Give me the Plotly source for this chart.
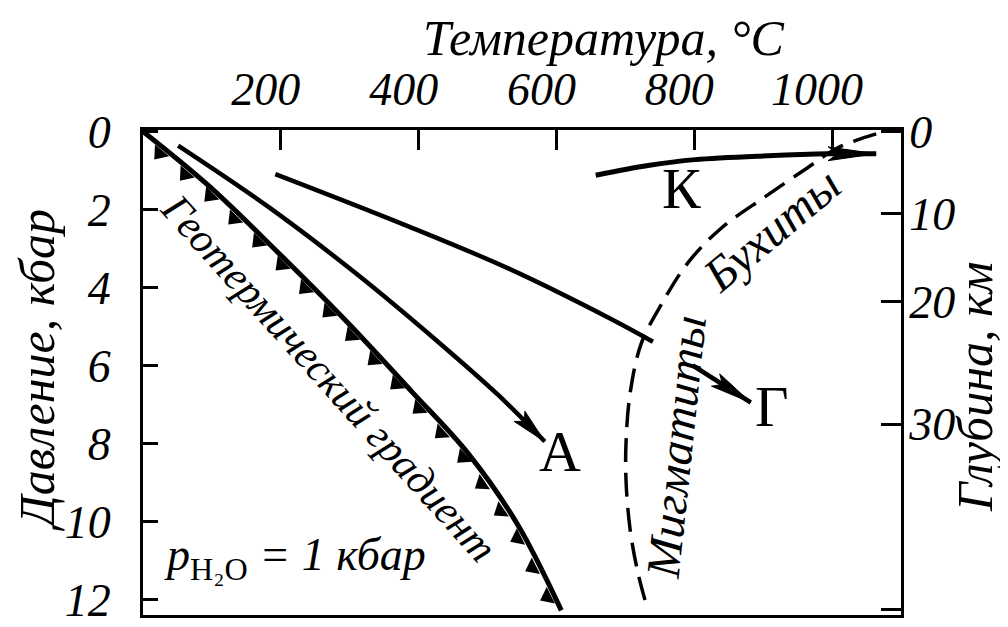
import numpy as np
import plotly.graph_objects as go

# geothermal gradient (T in °C, P in kbar)
grad_T = [0, 94, 193, 292, 389, 472, 544, 607]
grad_P = [0, 1.37, 3.05, 4.81, 6.65, 8.26, 10.09, 12.28]

# path A
a_T = [51, 181, 312, 428, 515, 583]
a_P = [0.36, 1.92, 3.68, 5.39, 6.75, 7.95]

# path Г (broken by the "Мигматиты" label)
g1_T = [192, 385, 530, 675, 740]
g1_P = [1.09, 2.43, 3.51, 4.77, 5.39]
g2_T = [798, 882]
g2_P = [6.00, 6.95]

# path К
k_T = [657, 733, 801, 907, 994, 1064]
k_P = [1.12, 0.87, 0.72, 0.62, 0.57, 0.57]

# migmatite / buchite boundary (dashed)
mig_T = [1064, 1009, 965, 903, 839, 791, 752, 723, 707, 701, 701, 707, 718, 730]
mig_P = [0.06, 0.41, 0.92, 1.67, 2.48, 3.36, 4.44, 5.44, 6.70, 7.96, 8.97, 10.22, 11.30, 12.11]

t_ticks = [200, 400, 600, 800, 1000]
p_ticks = [0, 2, 4, 6, 8, 10, 12]
depth_lbl = ["0", "10", "20", "30", "40"]
depth_pos = [0, 2.10, 4.36, 7.51, 12.25]

T_RANGE = [0, 1100]
P_RANGE = [12.4, -0.04]
L, R, T, B = 135, 115, 122, 10
W, H = 1008, 627
sx = (W - L - R) / (T_RANGE[1] - T_RANGE[0])
sy = (H - T - B) / (P_RANGE[0] - P_RANGE[1])

FONT = "Liberation Serif"

fig = go.Figure()


def line(x, y, width, dash="solid", yaxis="y"):
    fig.add_trace(go.Scatter(x=x, y=y, mode="lines", yaxis=yaxis,
                             line=dict(color="black", width=width, dash=dash,
                                       shape="spline", smoothing=1.0),
                             hoverinfo="skip"))


def head(x, y, length, width):
    # narrow filled arrow head at the end of a path
    x1, y1 = x[-2] * sx, y[-2] * sy
    x2, y2 = x[-1] * sx, y[-1] * sy
    d = np.hypot(x2 - x1, y2 - y1)
    ux, uy = (x2 - x1) / d, (y2 - y1) / d
    nx, ny = -uy, ux
    bx, by = x2 - ux * length, y2 - uy * length
    mx, my = x2 - ux * length * 0.8, y2 - uy * length * 0.8
    px = [x2, bx + nx * width / 2, mx, bx - nx * width / 2, x2]
    py = [y2, by + ny * width / 2, my, by - ny * width / 2, y2]
    fig.add_trace(go.Scatter(x=np.array(px) / sx, y=np.array(py) / sy,
                             mode="lines", fill="toself", fillcolor="black",
                             line=dict(color="black", width=1), hoverinfo="skip"))


line(grad_T, grad_P, 5)
line(a_T, a_P, 4.5)
line(g1_T, g1_P, 4.5)
line(g2_T, g2_P, 4.5)
line(k_T, k_P, 5)
line(mig_T, mig_P, 3.5, dash="24px,11px", yaxis="y2")

head(a_T, a_P, 36, 15)
head(g2_T, g2_P, 42, 15)
head(k_T, k_P, 48, 14)

# triangles along the geothermal gradient (lower-left side)
gx = np.array(grad_T) * sx
gy = np.array(grad_P) * sy
seg = np.hypot(np.diff(gx), np.diff(gy))
s = np.r_[0, np.cumsum(seg)]
ss = np.arange(27, s[-1] - 4, 33.5)
idx = np.clip(np.searchsorted(s, ss) - 1, 0, len(seg) - 1)
dxs = np.diff(gx)[idx] / seg[idx]
dys = np.diff(gy)[idx] / seg[idx]
off = 6.5
tx = (np.interp(ss, s, gx) - dys * off) / sx
ty = (np.interp(ss, s, gy) + dxs * off) / sy
ang = np.degrees(np.arctan2(dys, dxs))
fig.add_trace(go.Scatter(x=tx, y=ty, mode="markers", hoverinfo="skip",
                         marker=dict(symbol="triangle-down", size=16, angle=ang,
                                     color="black", line=dict(width=0))))

ital = dict(family=FONT, size=42, color="black", style="italic")
ital_big = dict(family=FONT, size=48, color="black", style="italic")
roman = dict(family=FONT, size=58, color="black")

labels = [
    ("Геотермический градиент", 270, 6.33, 48, ital),
    ("Мигматиты", 773, 8.1, -84, ital_big),
    ("Бухиты", 912, 2.5, -40, ital_big),
    ("А", 605, 8.2, 0, roman),
    ("Г", 913, 7.05, 0, roman),
    ("К", 782, 1.45, 0, roman),
]
for txt, x, y, a, f in labels:
    fig.add_annotation(x=x, y=y, text=txt, textangle=a, showarrow=False,
                       xanchor="center", yanchor="middle", font=f)

fig.add_annotation(x=28, y=10.95, xanchor="left", yanchor="middle", showarrow=False,
                   text="<i>p</i><sub>H₂O</sub><i> = 1 кбар</i>",
                   font=dict(family=FONT, size=46, color="black"))

tit = dict(family=FONT, size=50, color="black", style="italic")
for txt, x, y, a in [("Температура, °С", 0.607, 1.19, 0),
                     ("Давление, кбар", -0.14, 0.505, -90),
                     ("Глубина, км", 1.097, 0.469, -90)]:
    fig.add_annotation(xref="paper", yref="paper", x=x, y=y, text=txt, textangle=a,
                       xanchor="center", yanchor="middle", showarrow=False, font=tit)

tickfont = dict(family=FONT, size=46, color="black", style="italic")
common = dict(ticks="inside", tickwidth=2.5, tickcolor="black", showline=True,
              linewidth=3, linecolor="black", showgrid=False, zeroline=False,
              tickfont=tickfont)

fig.update_layout(
    width=W, height=H,
    margin=dict(l=L, r=R, t=T, b=B),
    paper_bgcolor="white", plot_bgcolor="white",
    showlegend=False,
    xaxis=dict(side="top", range=T_RANGE, tickvals=t_ticks, ticklen=20, mirror=True,
               ticklabelstandoff=4, ticklabelshift=-15, **common),
    yaxis=dict(range=P_RANGE, tickvals=p_ticks, ticklen=15,
               ticklabelstandoff=20, **common),
    yaxis2=dict(range=P_RANGE, overlaying="y", side="right", tickvals=depth_pos,
                ticktext=depth_lbl, ticklen=20, ticklabelstandoff=-4, **common),
)

fig.write_html("out.html")
